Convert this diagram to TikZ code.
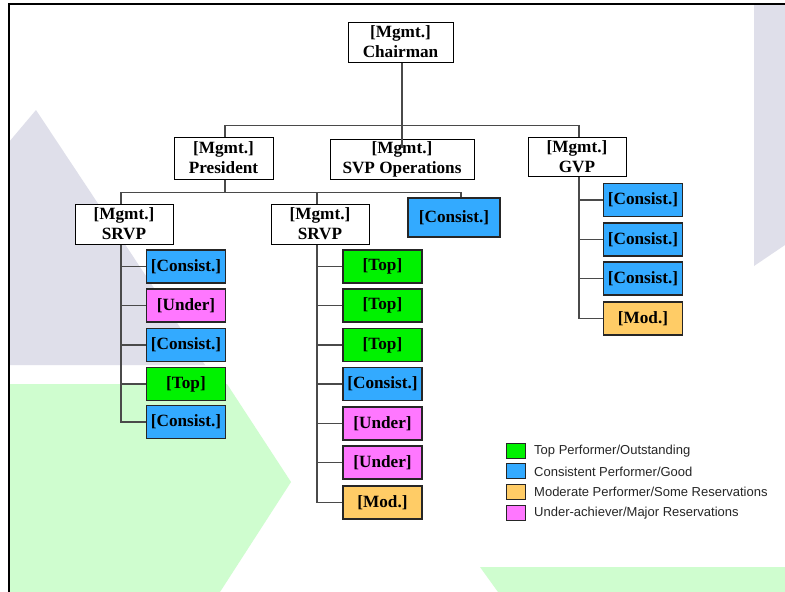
\documentclass[tikz,border=0pt]{standalone}
\usepackage{fontspec}
\setmainfont{Liberation Serif}
\newfontfamily\legendfont{Liberation Sans}
\usetikzlibrary{calc}

% rating colours
\definecolor{ratetop}{HTML}{00F200}
\definecolor{ratecons}{HTML}{33AAFF}
\definecolor{ratemod}{HTML}{FFCC66}
\definecolor{rateunder}{HTML}{FF77FF}
% backdrop colours
\definecolor{backgray}{HTML}{DFDFEA}
\definecolor{backgreen}{HTML}{CFFDCF}
\definecolor{linkgray}{HTML}{4A4A4A}

\begin{document}
\begin{tikzpicture}[x=1pt,y=-1pt,
  boxfont/.style={font=\fontsize{17.2}{20}\selectfont\bfseries},
  mgmtbox/.style={boxfont, draw=black, line width=1pt, fill=white,
    align=center, inner sep=0pt},
  ratebox/.style={boxfont, draw=black!85, line width=1.1pt, inner sep=0pt,
    minimum width=79pt, minimum height=33pt},
  link/.style={draw=linkgray, line width=1.8pt},
  keybox/.style={draw=black!85, line width=1pt, minimum width=19pt,
    minimum height=15pt, inner sep=0pt},
  keytext/.style={anchor=west, inner sep=0pt, text=black!85,
    font=\legendfont\fontsize{13}{15}\selectfont}]

\useasboundingbox (0,0) rectangle (785,592);
\fill[white] (0,0) rectangle (785,592);

% backdrop shapes
\fill[backgray] (9,142) -- (36,110) -- (205,365) -- (9,365) -- cycle;
\fill[backgray] (754,5) -- (785,5) -- (785,245) -- (754,266) -- cycle;
\fill[backgreen] (9,384) -- (227,384) -- (291,482) -- (220,592) -- (9,592) -- cycle;
\fill[backgreen] (480,567) -- (785,567) -- (785,592) -- (498,592) -- cycle;

% slide frame
\draw[black, line width=2pt] (9,592) -- (9,4) -- (785,4);

% management boxes
\node[mgmtbox, minimum width=105pt, minimum height=40pt] (chair) at (400.5,42) {[Mgmt.]\\Chairman};
\node[mgmtbox, minimum width=99pt, minimum height=42pt] (pres) at (223.5,158) {[Mgmt.]\\President};
\node[mgmtbox, minimum width=144pt, minimum height=40pt] (svpops) at (402,159) {[Mgmt.]\\SVP Operations};
\node[mgmtbox, minimum width=98pt, minimum height=39pt] (gvp) at (577,156.5) {[Mgmt.]\\GVP};
\node[mgmtbox, minimum width=98pt, minimum height=40pt] (srvpa) at (124,224) {[Mgmt.]\\SRVP};
\node[mgmtbox, minimum width=98pt, minimum height=40pt] (srvpb) at (320,224) {[Mgmt.]\\SRVP};

% rated staff
\node[ratebox, fill=ratecons, minimum width=92pt, minimum height=39pt] (ops1) at (454,217.5) {[Consist.]};

\node[ratebox, fill=ratecons]  (a1) at (186,266.5) {[Consist.]};
\node[ratebox, fill=rateunder] (a2) at (186,305.5) {[Under]};
\node[ratebox, fill=ratecons]  (a3) at (186,345)   {[Consist.]};
\node[ratebox, fill=ratetop]   (a4) at (186,384)   {[Top]};
\node[ratebox, fill=ratecons]  (a5) at (186,422)   {[Consist.]};

\node[ratebox, fill=ratetop]   (b1) at (382.5,266.5) {[Top]};
\node[ratebox, fill=ratetop]   (b2) at (382.5,305.5) {[Top]};
\node[ratebox, fill=ratetop]   (b3) at (382.5,345)   {[Top]};
\node[ratebox, fill=ratecons]  (b4) at (382.5,384)   {[Consist.]};
\node[ratebox, fill=rateunder] (b5) at (382.5,423.5) {[Under]};
\node[ratebox, fill=rateunder] (b6) at (382.5,462.5) {[Under]};
\node[ratebox, fill=ratemod]   (b7) at (382.5,502.5) {[Mod.]};

\node[ratebox, fill=ratecons]  (c1) at (643,200)   {[Consist.]};
\node[ratebox, fill=ratecons]  (c2) at (643,239.5) {[Consist.]};
\node[ratebox, fill=ratecons]  (c3) at (643,278.5) {[Consist.]};
\node[ratebox, fill=ratemod]   (c4) at (643,318.5) {[Mod.]};

% reporting lines
\coordinate (chairfoot) at ([xshift=1.5pt]chair.south);
\draw[link] (chairfoot) -- ++(0,85);

\coordinate (prestop) at ([xshift=1.5pt]pres.north);
\coordinate (gvptop) at ([xshift=2pt]gvp.north);
\draw[link] (prestop) -- ++(0,-11) -| (gvptop);

\coordinate (presfoot) at ([xshift=1.5pt]pres.south);
\coordinate (srvpatop) at ([xshift=-3pt]srvpa.north);
\coordinate (srvpbtop) at ([xshift=-3pt]srvpb.north);
\coordinate (opstop) at ([xshift=7pt]ops1.north);
\draw[link] (presfoot) -- ++(0,13) coordinate (presbar);
\draw[link] (srvpatop) |- (presbar) -| (opstop);
\draw[link] (srvpbtop) -- (srvpbtop |- presbar);

\coordinate (trunka) at ([xshift=-3pt]srvpa.south);
\draw[link] (trunka) |- (a5.west);
\foreach \n in {a1,a2,a3,a4}
  \draw[link] (\n.west) -- (\n.west -| trunka);

\coordinate (trunkb) at ([xshift=-3pt]srvpb.south);
\draw[link] (trunkb) |- (b7.west);
\foreach \n in {b1,b2,b3,b4,b5,b6}
  \draw[link] (\n.west) -- (\n.west -| trunkb);

\coordinate (trunkc) at ([xshift=2pt]gvp.south);
\draw[link] (trunkc) |- (c4.west);
\foreach \n in {c1,c2,c3}
  \draw[link] (\n.west) -- (\n.west -| trunkc);

% legend
\node[keybox, fill=ratetop]   (k1) at (515.5,450.5) {};
\node[keybox, fill=ratecons]  (k2) at (515.5,471)   {};
\node[keybox, fill=ratemod]   (k3) at (515.5,491.5) {};
\node[keybox, fill=rateunder] (k4) at (515.5,512.5) {};
\node[keytext] (t1) at (534,451)   {Top Performer/Outstanding};
\node[keytext] (t2) at (534,471.5) {Consistent Performer/Good};
\node[keytext] (t3) at (534,492)   {Moderate Performer/Some Reservations};
\node[keytext] (t4) at (534,513)   {Under-achiever/Major Reservations};
\end{tikzpicture}
\end{document}
